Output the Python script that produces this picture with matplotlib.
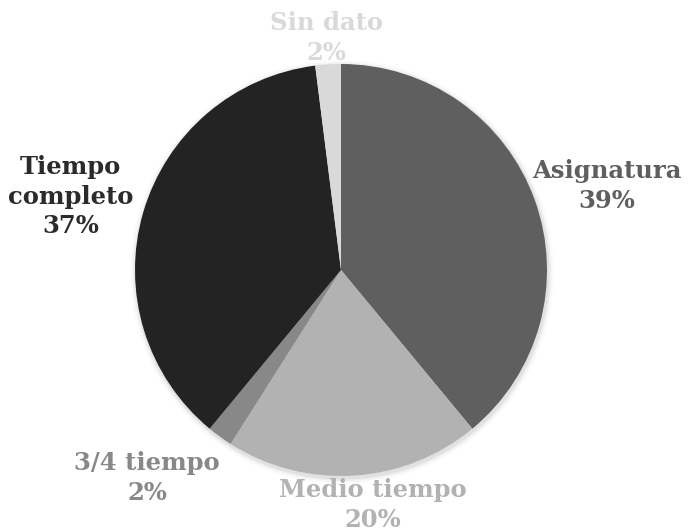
import numpy as np
import matplotlib.pyplot as plt
from matplotlib.patches import Circle

labels = ["Asignatura", "Medio tiempo", "3/4 tiempo", "Tiempo completo", "Sin dato"]
values = [39, 20, 2, 37, 2]
colors = ["#5f5f5f", "#b2b2b2", "#888888", "#232323", "#d9d9d9"]
text_colors = ["#5f5f5f", "#b2b2b2", "#888888", "#2b2b2b", "#d9d9d9"]
label_text = ["Asignatura\n39%", "Medio tiempo\n20%", "3/4 tiempo\n2%", "Tiempo\ncompleto\n37%", "Sin dato\n2%"]
# per-label distance (in radii) and angle tweak (deg) to match the layout
label_dist = [1.354, 1.15, 1.38, 1.36, 1.13]
label_dang = [-2.3, 4, -7, 1, 0]

W, H = 688, 531
fig = plt.figure(figsize=(W / 100, H / 100), dpi=100)
ax = fig.add_axes([0, 0, 1, 1])
ax.set_aspect("equal")

cx, cy, r = 341, 531 - 270, 206

# soft shadow around the pie
for i, a in enumerate([0.05, 0.035, 0.02, 0.01]):
    ax.add_patch(Circle((cx + 1, cy - 2), r + 1.5 + i * 1.5, color="black", alpha=a, lw=0, zorder=0))

wedges, _ = ax.pie(values, colors=colors, startangle=90, counterclock=False,
                   center=(cx, cy), radius=r, frame=True,
                   wedgeprops=dict(linewidth=0, zorder=1))
ax.set_xlim(0, W)
ax.set_ylim(0, H)
ax.axis("off")

for w, txt, col, d, da in zip(wedges, label_text, text_colors, label_dist, label_dang):
    ang = np.deg2rad((w.theta1 + w.theta2) / 2 + da)
    x = cx + d * r * np.cos(ang)
    y = cy + d * r * np.sin(ang)
    ax.text(x, y, txt, ha="center", va="center", color=col, fontsize=17.5,
            fontweight="bold", family="DejaVu Serif", linespacing=1.3, zorder=3)

fig.savefig("out.png", dpi=100)
